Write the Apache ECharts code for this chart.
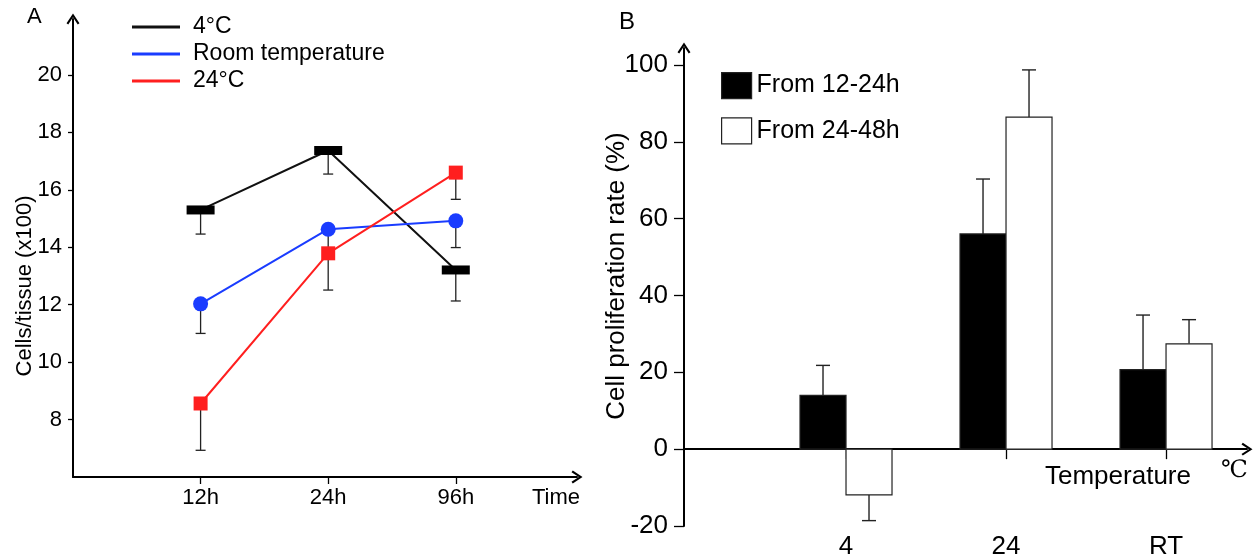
<!DOCTYPE html>
<html><head><meta charset="utf-8">
<script src="https://cdn.jsdelivr.net/npm/echarts@6/dist/echarts.min.js"></script>
<style>html,body{margin:0;padding:0;background:#fff}#c{width:1257px;height:560px}</style>
</head><body><div id="c"></div><script>
// ---- Panel A data ----
const timeLabels = ['12h', '24h', '96h'];
const leftTicks = [8, 10, 12, 14, 16, 18, 20];
const cells4C = [15.3, 17.37, 13.21];
const err4C = [0.84, 0.82, 1.08];
const cellsRT = [12.03, 14.63, 14.92];
const errRT = [1.03, 0.9, 0.93];
const cells24C = [8.56, 13.79, 16.6];
const err24C = [1.63, 1.28, 0.93];

// ---- Panel B data ----
const tempLabels = ['4', '24', 'RT'];
const rightTicks = [-20, 0, 20, 40, 60, 80, 100];
const rate12to24 = [14.0, 56.0, 20.7];
const err12to24 = [7.8, 14.3, 14.2];
const rate24to48 = [-11.9, 86.4, 27.4];
const err24to48 = [6.7, 12.3, 6.3];

const FONT = "'Liberation Sans', Arial, sans-serif";
const pos = timeLabels.map((_, i) => i + 1);
const tpos = tempLabels.map((_, i) => i + 1);

function pts(vals) { return vals.map((v, i) => [pos[i], v]); }
function errPts(vals, errs) { return vals.map((v, i) => [pos[i], v, errs[i]]); }

function lowerErr(params, api) {
  const x = api.value(0), v = api.value(1), e = api.value(2);
  const a = api.coord([x, v]), b = api.coord([x, v - e]);
  const st = { stroke: '#222', lineWidth: 1.3 };
  return { type: 'group', children: [
    { type: 'line', shape: { x1: a[0], y1: a[1], x2: b[0], y2: b[1] }, style: st },
    { type: 'line', shape: { x1: b[0] - 5, y1: b[1], x2: b[0] + 5, y2: b[1] }, style: st }
  ]};
}

function barRender(side, fill) {
  return function (params, api) {
    const x = api.value(0), v = api.value(1), e = api.value(2);
    const BW = 46;
    const p0 = api.coord([x, 0]);
    const p1 = api.coord([x, v]);
    const left = side < 0 ? p0[0] - BW : p0[0];
    const cx = left + BW / 2;
    const pe = api.coord([x, v + (v >= 0 ? e : -e)]);
    const st = { stroke: '#222', lineWidth: 1.4 };
    return { type: 'group', children: [
      { type: 'line', shape: { x1: cx, y1: p1[1], x2: cx, y2: pe[1] }, style: st },
      { type: 'line', shape: { x1: cx - 7, y1: pe[1], x2: cx + 7, y2: pe[1] }, style: st },
      { type: 'rect', shape: { x: left, y: Math.min(p0[1], p1[1]), width: BW, height: Math.abs(p1[1] - p0[1]) },
        style: { fill: fill, stroke: '#222', lineWidth: 1.2 } }
    ]};
  };
}

const ARROW = 'path://M0,9 L6,0 L12,9 L10.4,10.2 L6,3.4 L1.6,10.2 Z';
const axisLineStyle = { color: '#000', width: 2 };
const arrowLine = { symbol: ['none', ARROW], symbolSize: [13, 11], lineStyle: axisLineStyle };
const chart = echarts.init(document.getElementById('c'));
chart.setOption({
  backgroundColor: '#fff',
  animation: false,
  textStyle: { fontFamily: FONT, color: '#000' },
  grid: [
    { left: 73, right: 680, top: 19, bottom: 83 },
    { left: 684, right: 10, top: 48, bottom: 33 }
  ],
  xAxis: [
    { type: 'value', gridIndex: 0, min: 0, max: 3.95,
      axisLine: Object.assign({}, arrowLine),
      axisTick: { customValues: pos, length: 7, lineStyle: { color: '#000', width: 1.3 } },
      axisLabel: { customValues: pos, formatter: v => timeLabels[Math.round(v) - 1], fontSize: 22, margin: 10, color: '#000', fontFamily: FONT },
      splitLine: { show: false } },
    { type: 'value', gridIndex: 1, min: -0.0125, max: 3.506,
      axisLine: Object.assign({ onZero: true }, arrowLine),
      axisTick: { customValues: tpos, length: 10, lineStyle: { color: '#000', width: 1.3 } },
      axisLabel: { show: false },
      splitLine: { show: false } },
    { type: 'value', gridIndex: 1, min: -0.0125, max: 3.506, position: 'bottom',
      axisLine: { show: false, onZero: false },
      axisTick: { show: false },
      axisLabel: { customValues: tpos, formatter: v => tempLabels[Math.round(v) - 1], fontSize: 26, margin: 8, color: '#000', fontFamily: FONT },
      splitLine: { show: false } }
  ],
  yAxis: [
    { type: 'value', gridIndex: 0, min: 6, max: 21.95,
      axisLine: Object.assign({ show: true }, arrowLine),
      axisTick: { show: true, customValues: leftTicks, length: 5, lineStyle: { color: '#000', width: 1.3 } },
      axisLabel: { customValues: leftTicks, fontSize: 22, margin: 11, color: '#000', fontFamily: FONT },
      splitLine: { show: false } },
    { type: 'value', gridIndex: 1, min: -20, max: 104.4,
      axisLine: Object.assign({ show: true, onZero: false }, arrowLine),
      axisTick: { show: true, customValues: rightTicks, length: 10, lineStyle: { color: '#000', width: 1.3 } },
      axisLabel: { customValues: rightTicks, fontSize: 26, margin: 16, color: '#000', fontFamily: FONT },
      splitLine: { show: false } }
  ],
  legend: [
    { orient: 'vertical', left: 127, top: 10, itemWidth: 48, itemHeight: 3, itemGap: 3, icon: 'rect',
      textStyle: { fontSize: 23, lineHeight: 24, color: '#000', fontFamily: FONT, padding: [0, 0, 0, 8] },
      data: [
        { name: '4°C', itemStyle: { color: '#111' } },
        { name: 'Room temperature', itemStyle: { color: '#1a3cff' } },
        { name: '24°C', itemStyle: { color: '#ff1f1f' } }
      ] },
    { orient: 'vertical', left: 716, top: 67, itemWidth: 30, itemHeight: 26, itemGap: 18, icon: 'rect',
      textStyle: { fontSize: 25, lineHeight: 26, color: '#000', fontFamily: FONT },
      data: [
        { name: 'From 12-24h', itemStyle: { color: '#000', borderColor: '#222', borderWidth: 1.2 } },
        { name: 'From 24-48h', itemStyle: { color: '#fff', borderColor: '#222', borderWidth: 1.2 } }
      ] }
  ],
  graphic: [
    { type: 'text', x: 27, y: 6, style: { text: 'A', font: '22px ' + FONT, fill: '#000' } },
    { type: 'text', x: 619, y: 10, style: { text: 'B', font: '24px ' + FONT, fill: '#000' } },
    { type: 'text', x: 532, y: 498, style: { text: 'Time', font: '22px ' + FONT, fill: '#000', verticalAlign: 'middle' } },
    { type: 'text', x: 1045, y: 477, style: { text: 'Temperature', font: '26px ' + FONT, fill: '#000', verticalAlign: 'middle' } },
    { type: 'text', x: 1221, y: 471, style: { text: '℃', font: "24px 'DejaVu Serif', 'Liberation Serif', serif", fill: '#000', verticalAlign: 'middle' } },
    { type: 'text', x: 25, y: 286, rotation: Math.PI / 2, style: { text: 'Cells/tissue (x100)', font: '22px ' + FONT, fill: '#000', align: 'center', verticalAlign: 'middle' } },
    { type: 'text', x: 617, y: 276, rotation: Math.PI / 2, style: { text: 'Cell proliferation rate (%)', font: '26px ' + FONT, fill: '#000', align: 'center', verticalAlign: 'middle' } }
  ],
  series: [
    { type: 'custom', name: 'err4C', xAxisIndex: 0, yAxisIndex: 0, renderItem: lowerErr, data: errPts(cells4C, err4C), z: 1, silent: true },
    { type: 'custom', name: 'errRT', xAxisIndex: 0, yAxisIndex: 0, renderItem: lowerErr, data: errPts(cellsRT, errRT), z: 1, silent: true },
    { type: 'custom', name: 'err24C', xAxisIndex: 0, yAxisIndex: 0, renderItem: lowerErr, data: errPts(cells24C, err24C), z: 1, silent: true },
    { type: 'line', name: '4°C', xAxisIndex: 0, yAxisIndex: 0, data: pts(cells4C), symbol: 'rect', symbolSize: [28, 9],
      itemStyle: { color: '#000' }, lineStyle: { color: '#111', width: 2 }, z: 3 },
    { type: 'line', name: 'Room temperature', xAxisIndex: 0, yAxisIndex: 0, data: pts(cellsRT), symbol: 'circle', symbolSize: 15,
      itemStyle: { color: '#1a3cff' }, lineStyle: { color: '#1a3cff', width: 2 }, z: 3 },
    { type: 'line', name: '24°C', xAxisIndex: 0, yAxisIndex: 0, data: pts(cells24C), symbol: 'rect', symbolSize: 14,
      itemStyle: { color: '#ff1f1f' }, lineStyle: { color: '#ff1f1f', width: 2 }, z: 3 },
    { type: 'custom', name: 'From 12-24h', xAxisIndex: 1, yAxisIndex: 1, renderItem: barRender(-1, '#000'),
      itemStyle: { color: '#000' }, data: rate12to24.map((v, i) => [tpos[i], v, err12to24[i]]) },
    { type: 'custom', name: 'From 24-48h', xAxisIndex: 1, yAxisIndex: 1, renderItem: barRender(1, '#fff'),
      itemStyle: { color: '#fff' }, data: rate24to48.map((v, i) => [tpos[i], v, err24to48[i]]) }
  ]
});
</script></body></html>
